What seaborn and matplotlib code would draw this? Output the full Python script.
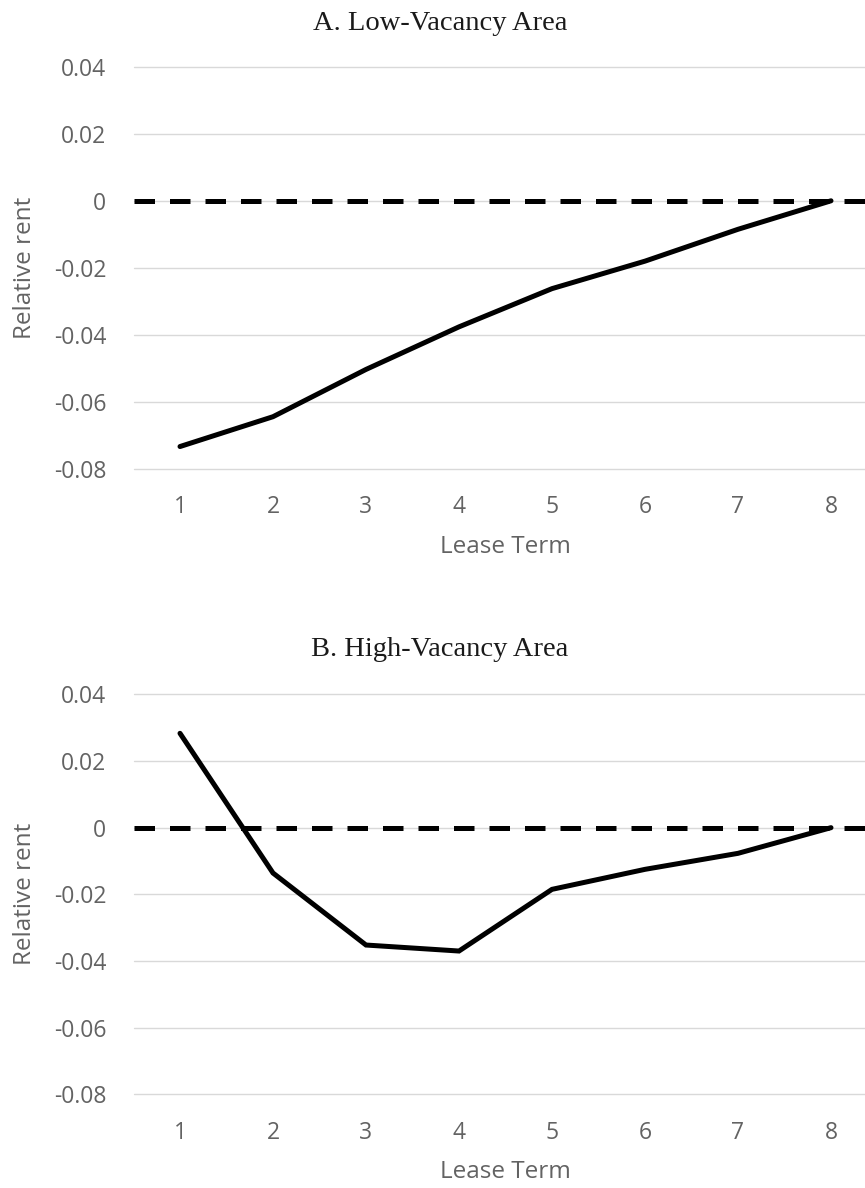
import matplotlib
matplotlib.use("Agg")
import matplotlib.pyplot as plt
import seaborn as sns
import pandas as pd

lease_term = [1, 2, 3, 4, 5, 6, 7, 8]
low_vacancy = [-0.0733, -0.0644, -0.0503, -0.0376, -0.0262, -0.0180, -0.0085, 0.0]
high_vacancy = [0.0283, -0.0136, -0.0352, -0.0370, -0.0185, -0.0125, -0.0077, 0.0]
y_ticks = [-0.08, -0.06, -0.04, -0.02, 0, 0.02, 0.04]
y_tick_labels = ["-0.08", "-0.06", "-0.04", "-0.02", "0", "0.02", "0.04"]
titles = ["A. Low-Vacancy Area", "B. High-Vacancy Area"]

sns.set_theme(style="white")
plt.rcParams["font.family"] = ["Open Sans", "DejaVu Sans"]

W, H = 865, 1188
fig = plt.figure(figsize=(W / 100, H / 100), dpi=100)

gray = "#636363"
grid = "#d9d9d9"

panels = [
    (low_vacancy, 66.7, 469.0, 23.0),
    (high_vacancy, 694.3, 1094.4, 649.0),
]

for (vals, top_px, bot_px, title_px), title in zip(panels, titles):
    left_px, right_px = 133.5, 877.5
    aw = right_px - left_px
    ah = bot_px - top_px
    ax = fig.add_axes([left_px / W, 1 - bot_px / H, aw / W, ah / H])
    df = pd.DataFrame({"Lease Term": lease_term, "Relative rent": vals})
    ax.set_ylim(-0.08, 0.04)
    ax.set_xlim(0.5, 8.5)
    for t in y_ticks:
        ax.axhline(t, color=grid, lw=1.0, zorder=0, clip_on=False)
    ax.axhline(0, color="black", lw=3.6, linestyle=(0, (4.1, 3.0)), dash_capstyle="butt", zorder=2)
    sns.lineplot(data=df, x="Lease Term", y="Relative rent", ax=ax, color="black",
                 lw=3.6, solid_capstyle="round", solid_joinstyle="miter", zorder=3)
    ax.set_yticks(y_ticks)
    ax.set_yticklabels(y_tick_labels)
    ax.set_xticks(lease_term)
    ax.set_xticklabels([str(v) for v in lease_term])
    ax.tick_params(axis="both", length=0, labelsize=16.5, labelcolor=gray)
    ax.tick_params(axis="y", pad=19.5)
    ax.tick_params(axis="x", pad=19)
    for s in ax.spines.values():
        s.set_visible(False)
    ax.grid(False)
    ax.set_xlabel("Lease Term", fontsize=17.5, color=gray)
    ax.set_ylabel("Relative rent", fontsize=17.5, color=gray)
    ax.yaxis.set_label_coords(-(left_px - 37) / aw, 0.5)
    ax.xaxis.set_label_coords(0.5, -(535 - 469) / ah)
    fig.text(440 / W, 1 - title_px / H, title, ha="center", va="center",
             fontsize=20.5, family=["Liberation Serif", "DejaVu Serif"], color="#1a1a1a")

fig.savefig("out.png", dpi=100)
